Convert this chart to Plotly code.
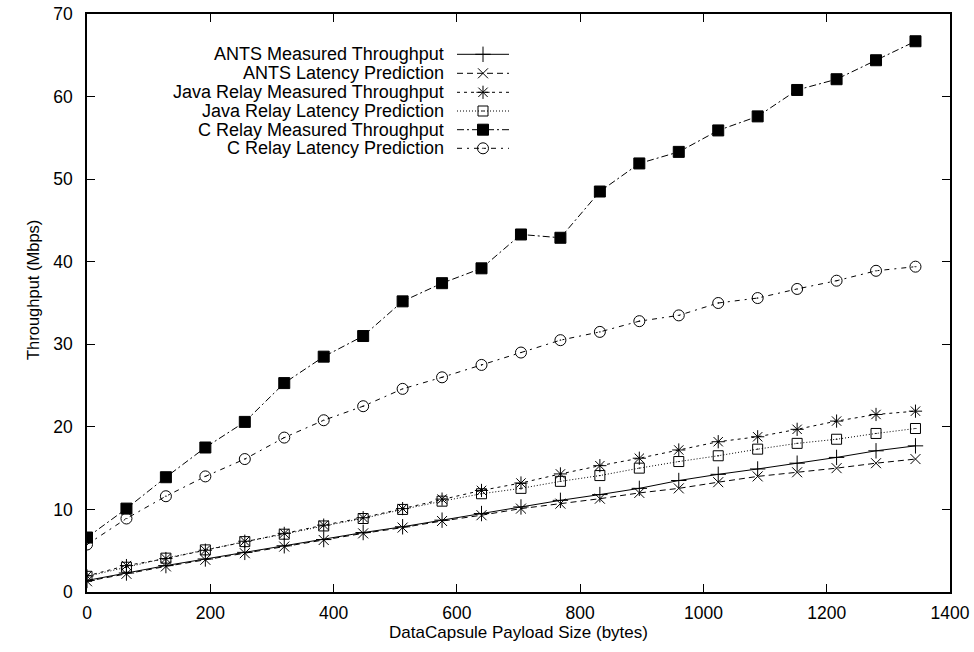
import plotly.graph_objects as go

payload = [0, 64, 128, 192, 256, 320, 384, 448, 512, 576, 640,
           704, 768, 832, 896, 960, 1024, 1088, 1152, 1216, 1280, 1344]

ants_measured = [1.4, 2.3, 3.2, 4.0, 4.8, 5.6, 6.35, 7.2, 7.9, 8.7, 9.5,
                 10.3, 11.1, 11.8, 12.55, 13.5, 14.25, 14.9, 15.6, 16.3, 17.1, 17.7]
ants_latency = [1.3, 2.2, 3.1, 3.9, 4.7, 5.5, 6.3, 7.1, 7.8, 8.6, 9.3,
                10.1, 10.7, 11.3, 12.0, 12.55, 13.3, 14.0, 14.5, 15.0, 15.6, 16.1]
java_measured = [1.95, 3.2, 4.05, 5.06, 6.15, 7.1, 8.1, 9.0, 10.1, 11.25, 12.3,
                 13.2, 14.3, 15.3, 16.2, 17.2, 18.2, 18.8, 19.7, 20.7, 21.5, 21.9]
java_latency = [1.9, 3.0, 4.1, 5.1, 6.1, 7.0, 8.0, 8.9, 10.0, 11.0, 11.9,
                12.55, 13.4, 14.1, 15.0, 15.8, 16.5, 17.3, 18.0, 18.5, 19.2, 19.8]
c_measured = [6.6, 10.1, 13.9, 17.5, 20.6, 25.3, 28.5, 31.0, 35.2, 37.4, 39.2,
              43.3, 42.9, 48.5, 51.9, 53.3, 55.9, 57.6, 60.8, 62.1, 64.4, 66.7]
c_latency = [5.75, 8.9, 11.6, 14.0, 16.1, 18.7, 20.8, 22.5, 24.6, 26.0, 27.5,
             29.0, 30.5, 31.5, 32.8, 33.5, 35.0, 35.6, 36.7, 37.7, 38.9, 39.4]

series_names = ["ANTS Measured Throughput", "ANTS Latency Prediction",
                "Java Relay Measured Throughput", "Java Relay Latency Prediction",
                "C Relay Measured Throughput", "C Relay Latency Prediction"]
series_values = [ants_measured, ants_latency, java_measured, java_latency,
                 c_measured, c_latency]

x_ticks = [0, 200, 400, 600, 800, 1000, 1200, 1400]
y_ticks = [0, 10, 20, 30, 40, 50, 60, 70]

styles = [
    dict(dash="solid", symbol="cross-thin", size=11),
    dict(dash="6px,4px", symbol="x-thin", size=10),
    dict(dash="3px,4px", symbol="asterisk", size=11),
    dict(dash="1px,2px", symbol="square-open-dot", size=10),
    dict(dash="7px,3px,2px,3px", symbol="square", size=11),
    dict(dash="5px,5px,2px,5px", symbol="circle-open-dot", size=11),
]

FONT = "Liberation Sans, Arial, Helvetica, sans-serif"
fig = go.Figure()

for name, vals, st in zip(series_names, series_values, styles):
    fig.add_trace(go.Scatter(
        x=payload, y=vals, mode="lines+markers", name=name, showlegend=False,
        line=dict(color="black", width=1, dash=st["dash"]),
        marker=dict(symbol=st["symbol"], size=st["size"], color="black",
                    line=dict(color="black", width=1)),
    ))

# Custom gnuplot-style key (text right-aligned, sample to the right)
# overlay axes in pixel units of the plot area
L, R, T, B = 87, 24, 14, 60
W, H = 974, 652
key_text_right = 445
key_x0, key_x1 = 457, 509
key_rows = [54.3, 73.3, 92.3, 111.0, 129.7, 148.3]
for name, st, ky in zip(series_names, styles, key_rows):
    fig.add_trace(go.Scatter(
        x=[key_x0, key_x1], y=[ky, ky], mode="lines", xaxis="x2", yaxis="y2",
        showlegend=False, hoverinfo="skip",
        line=dict(color="black", width=1, dash=st["dash"]),
    ))
    fig.add_trace(go.Scatter(
        x=[(key_x0 + key_x1) / 2], y=[ky], mode="markers", xaxis="x2", yaxis="y2",
        showlegend=False, hoverinfo="skip",
        marker=dict(symbol=st["symbol"], size=st["size"], color="black",
                    line=dict(color="black", width=1)),
    ))
    fig.add_annotation(
        x=key_text_right, y=ky, xref="x2", yref="y2", text=name, showarrow=False,
        xanchor="right", yanchor="middle", borderpad=0,
        font=dict(size=18, color="black", family=FONT),
    )

fig.add_annotation(
    x=(22 - L) / (W - L - R), y=(H - B - 290) / (H - T - B),
    xref="paper", yref="paper", text="Throughput (Mbps)", showarrow=False,
    textangle=-90, font=dict(size=16.5, color="black", family=FONT),
)

axis_common = dict(
    showline=True, linecolor="black", linewidth=1.5, mirror="ticks",
    ticks="inside", ticklen=8, tickwidth=1, tickcolor="black",
    showgrid=False, zeroline=False, automargin=False,
    tickfont=dict(size=17.5, color="black", family=FONT),
)

fig.update_layout(
    width=W, height=H,
    margin=dict(l=L, r=R, t=T, b=B, autoexpand=False),
    paper_bgcolor="white", plot_bgcolor="white",
    font=dict(family=FONT, color="black"),
    xaxis=dict(range=[0, 1400], tickvals=x_ticks, ticklabelstandoff=4,
               title=dict(text="DataCapsule Payload Size (bytes)",
                          font=dict(size=17, color="black", family=FONT), standoff=4),
               **axis_common),
    yaxis=dict(range=[0, 70], tickvals=y_ticks, ticklabelstandoff=9, **axis_common),
    xaxis2=dict(range=[L, W - R], overlaying="x", visible=False, fixedrange=True),
    yaxis2=dict(range=[H - B, T], overlaying="y", visible=False, fixedrange=True),
)

fig.write_html("out.html")
